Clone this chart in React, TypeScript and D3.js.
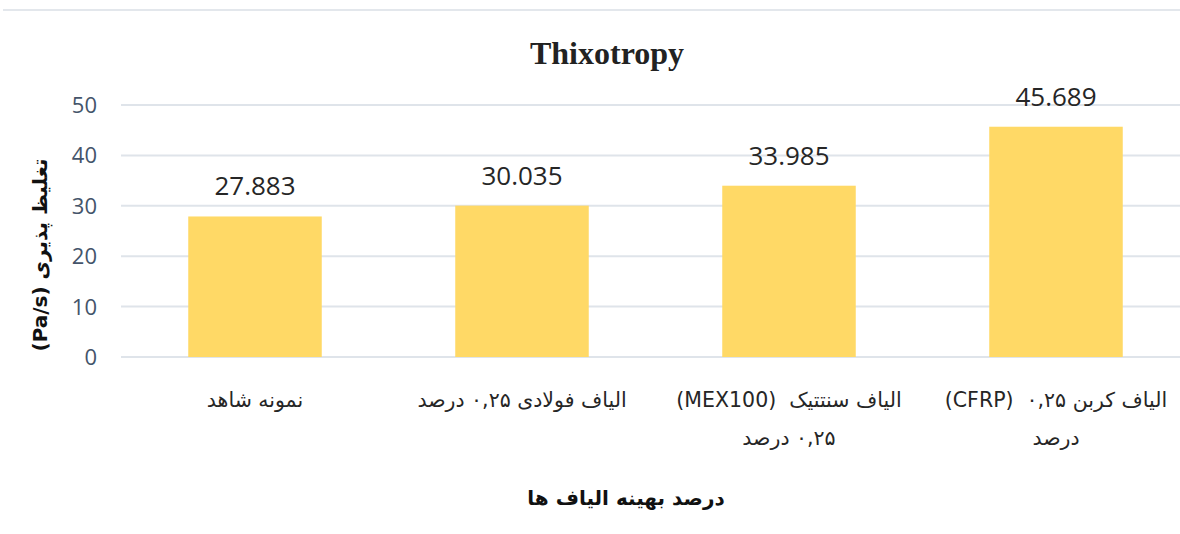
import React from "react";
import * as d3 from "d3";

const LRM = "\u200E";
const categories: string[] = [
  "نمونه شاهد",
  "الیاف فولادی ۰,۲۵ درصد",
  `الیاف سنتتیک  ${LRM}(MEX100)${LRM}|۰,۲۵ درصد`,
  `الیاف کربن ۰,۲۵  ${LRM}(CFRP)${LRM}|درصد`,
];
const values: number[] = [27.883, 30.035, 33.985, 45.689];
const yTicks: number[] = [0, 10, 20, 30, 40, 50];
const title = "Thixotropy";
const yTitle = "تغلیظ پذیری (Pa/s)";
const xTitle = "درصد بهینه الیاف ها";

const W = 1180;
const H = 534;

export default function App() {
  const x = d3
    .scaleBand<string>()
    .domain(categories)
    .range([121.5, 1189.5])
    .paddingInner(0.5)
    .paddingOuter(0.25);
  const y = d3.scaleLinear().domain([0, 50]).range([357, 105]);
  const bw = x.bandwidth();

  return (
    <svg
      width={W}
      height={H}
      style={{ position: "absolute", left: 0, top: 0, display: "block", background: "#fff" }}
    >
      <line x1={3} x2={1180} y1={10} y2={10} stroke="#e3e7ec" strokeWidth={2} />
      <text
        x={607}
        y={64}
        textAnchor="middle"
        fontFamily="'Liberation Serif', 'Times New Roman', serif"
        fontWeight="bold"
        fontSize={32}
        fill="#222"
      >
        {title}
      </text>
      {yTicks.map((t) => (
        <g key={t}>
          <line x1={121} x2={1180} y1={y(t)} y2={y(t)} stroke="#dfe4ea" strokeWidth={2} />
          <text
            x={97}
            y={y(t)}
            dy="0.36em"
            textAnchor="end"
            fontFamily="'Open Sans', sans-serif"
            fontSize={22}
            fill="#44546a"
          >
            {t}
          </text>
        </g>
      ))}
      {categories.map((c, i) => {
        const cx = (x(c) as number) + bw / 2;
        const bx = cx - bw / 2;
        return (
          <g key={c}>
            <rect x={bx} y={y(values[i])} width={bw} height={y(0) - y(values[i])} fill="#FFD966" />
            <text
              x={cx}
              y={y(values[i]) - 21}
              textAnchor="middle"
              fontFamily="'Open Sans', sans-serif"
              fontSize={26}
              fill="#262626"
            >
              {values[i].toFixed(3)}
            </text>
            {c.split("|").map((line, j) => (
              <text
                key={j}
                x={cx}
                y={407 + j * 38}
                textAnchor="middle"
                direction="rtl"
                style={{ whiteSpace: "pre" }}
                fontFamily="'DejaVu Sans', sans-serif"
                fontSize={20.5}
                fill="#262626"
              >
                {line}
              </text>
            ))}
          </g>
        );
      })}
      <text
        transform="translate(47,255) rotate(-90)"
        textAnchor="middle"
        direction="rtl"
        fontFamily="'DejaVu Sans', sans-serif"
        fontWeight="bold"
        fontSize={20}
        fill="#111"
      >
        {yTitle}
      </text>
      <text
        x={626}
        y={505}
        textAnchor="middle"
        direction="rtl"
        fontFamily="'DejaVu Sans', sans-serif"
        fontWeight="bold"
        fontSize={20}
        fill="#111"
      >
        {xTitle}
      </text>
    </svg>
  );
}
